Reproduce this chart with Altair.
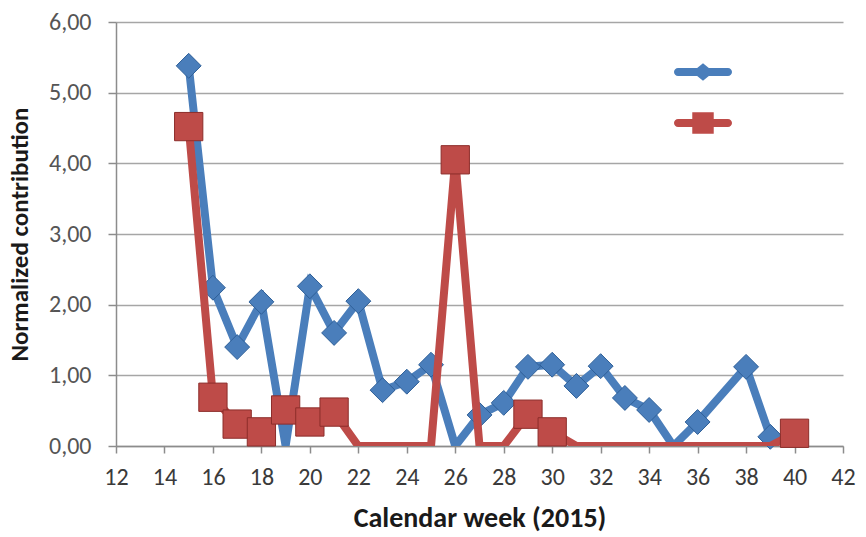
import altair as alt
import pandas as pd

# Weekly normalized contributions, calendar weeks 15-40 of 2015
weeks = list(range(15, 41))
blue_values = [5.38, 2.24, 1.40, 2.04, 0.00, 2.26, 1.60, 2.05, 0.79, 0.91, 1.15, 0.00,
               0.44, 0.61, 1.12, 1.15, 0.85, 1.13, 0.68, 0.51, 0.00, 0.34, None, 1.12,
               0.13, None]
red_values = [4.52, 0.69, 0.31, 0.20, 0.51, 0.34, 0.48, 0.00, 0.00, 0.00, 0.00, 4.05,
              0.00, 0.00, 0.45, 0.20, 0.00, 0.00, 0.00, 0.00, 0.00, 0.00, 0.00, 0.00,
              0.00, 0.18]

series_names = ["A", "B"]
line_colors = ["#4A7EBB", "#BE4B48"]
marker_strokes = ["#2E5F98", "#8C2D2A"]
marker_shapes = ["diamond", "square"]
marker_sizes = [620, 800]

# legend glyphs: a rounded thick stroke with the series marker on top
BAR = ("M-0.86,-0.14H0.86A0.14,0.14 0 0 1 0.86,0.14"
       "H-0.86A0.14,0.14 0 0 1 -0.86,-0.14Z")
legend_paths = [
    BAR + " M0,-0.30L0.37,0L0,0.30L-0.37,0Z",
    BAR + " M-0.37,-0.37H0.37V0.37H-0.37Z",
]
LEGEND_SIZE = 3364

x_ticks = list(range(12, 43, 2))
y_ticks = list(range(0, 7))

rows = []
for name, vals in zip(series_names, [blue_values, red_values]):
    for w, v in zip(weeks, vals):
        if v is not None:
            rows.append({"week": w, "value": v, "series": name})
df = pd.DataFrame(rows)

FONT = "Carlito, 'Liberation Sans Narrow', 'Open Sans', sans-serif"

x_enc = alt.X(
    "week:Q",
    scale=alt.Scale(domain=[12, 42], nice=False, zero=False),
    axis=alt.Axis(
        values=x_ticks, grid=False, title="Calendar week (2015)",
        tickSize=7, labelPadding=12, titlePadding=15, labelFlush=False,
        labelColor="#3a3a3a", titleFontSize=28,
    ),
)
y_enc = alt.Y(
    "value:Q",
    scale=alt.Scale(domain=[0, 6], nice=False),
    axis=alt.Axis(
        values=y_ticks, grid=True, title="Normalized contribution",
        tickSize=8, labelPadding=17, titlePadding=16, labelFlush=False,
        labelColor="#555555", titleFontSize=25,
        labelExpr="replace(format(datum.value, '.2f'), '.', ',')",
    ),
)

layers = []
for name, col, stroke, shp, sz in zip(series_names, line_colors, marker_strokes,
                                      marker_shapes, marker_sizes):
    base = alt.Chart(df).transform_filter(alt.datum.series == name)
    line = base.mark_line(color=col, strokeWidth=8, clip=True).encode(
        x=x_enc, y=y_enc, order="week:Q"
    )
    pts = base.transform_filter(alt.datum.value > 0).mark_point(
        shape=shp, filled=True, fill=col, stroke=stroke, strokeWidth=1,
        size=sz, opacity=1,
    ).encode(x=x_enc, y=y_enc)
    layers += [line, pts]

legend_def = alt.Legend(
    orient="none", legendX=558, legendY=21, title=None,
    labelExpr="''", symbolSize=LEGEND_SIZE, symbolStrokeWidth=0,
    symbolOpacity=1, rowPadding=13, padding=0, direction="vertical",
)

# layer without marks of its own: it only supplies the legend glyphs
legend_layer = alt.Chart(df).transform_filter("false").mark_point(
    filled=True, size=LEGEND_SIZE
).encode(
    x=x_enc, y=y_enc,
    color=alt.Color(
        "series:N",
        scale=alt.Scale(domain=series_names, range=line_colors),
        legend=legend_def,
    ),
    shape=alt.Shape(
        "series:N",
        scale=alt.Scale(domain=series_names, range=legend_paths),
        legend=legend_def,
    ),
)

chart = (
    alt.layer(*layers, legend_layer)
    .properties(
        width=727, height=424,
        autosize=alt.AutoSizeParams(type="none"),
        padding={"left": 116, "top": 22, "right": 23, "bottom": 91},
    )
    .configure_view(stroke=None)
    .configure_axis(
        labelFont=FONT, titleFont=FONT,
        labelFontSize=24,
        titleFontWeight="bold", titleColor="#1a1a1a",
        domainColor="#8C8C8C", domainWidth=1.5,
        tickColor="#8C8C8C", tickWidth=1.5,
        gridColor="#A6A6A6", gridWidth=1.5,
    )
)

chart.save("out.html", embed_options={"renderer": "svg", "actions": False})
